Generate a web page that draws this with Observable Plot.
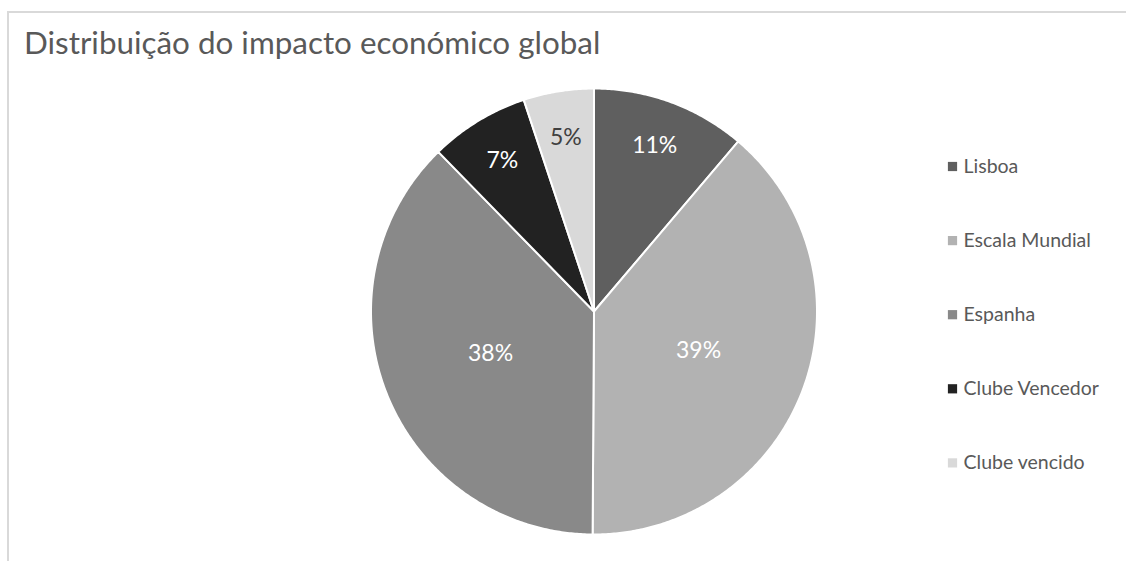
<!DOCTYPE html>
<html>
<head>
<meta charset="utf-8">
<script src="https://cdn.jsdelivr.net/npm/d3@7"></script>
<script src="https://cdn.jsdelivr.net/npm/@observablehq/plot@0.6"></script>
<style>
  html, body { margin: 0; padding: 0; background: #fff; }
  #wrap { position: relative; width: 1126px; height: 561px; overflow: hidden; font-family: Lato, "Open Sans", sans-serif; }
  #frame { position: absolute; left: 7px; top: 11px; width: 1130px; height: 560px; border-top: 2px solid #d9d9d9; border-left: 2px solid #d9d9d9; box-sizing: border-box; }
  #title { position: absolute; left: 24px; top: 27px; margin: 0; font-size: 31.4px; line-height: 1; font-weight: 400; color: #595959; white-space: nowrap; }
  #chart { position: absolute; left: 0; top: 0; }
</style>
</head>
<body>
<div id="wrap">
  <div id="frame"></div>
  <div id="chart"></div>
  <div id="title">Distribuição do impacto económico global</div>
</div>
<script>
// ---- data ----
const categories = ["Lisboa", "Escala Mundial", "Espanha", "Clube Vencedor", "Clube vencido"];
const values = [11.2, 38.9, 37.6, 7.2, 5.1];

// ---- layout constants ----
const W = 1126, H = 561;
const cx = 593.5, cy = 311, R = 223;
const legendX = 952, legendY0 = 166, legendStep = 74.1;
const palette = ["#5f5f5f", "#b2b2b2", "#898989", "#222222", "#d9d9d9"];

const total = d3.sum(values);
const arcs = d3.pie().sort(null).value(d => d)(values);

// slice polygons (center -> arc -> center)
const slicePts = [];
arcs.forEach((a, i) => {
  const cat = categories[i];
  slicePts.push({cat, x: cx, y: cy});
  const n = Math.max(4, Math.ceil((a.endAngle - a.startAngle) / (Math.PI / 360)));
  for (let k = 0; k <= n; k++) {
    const t = a.startAngle + (a.endAngle - a.startAngle) * k / n;
    slicePts.push({cat, x: cx + R * Math.sin(t), y: cy - R * Math.cos(t)});
  }
  slicePts.push({cat, x: cx, y: cy});
});

// labels
const labels = arcs.map((a, i) => {
  const share = values[i] / total;
  const mid = (a.startAngle + a.endAngle) / 2;
  const rr = share < 0.15 ? 0.79 * R : 0.5 * R;
  const col = palette[i];
  return {
    cat: categories[i],
    text: Math.round(share * 100) + "%",
    x: cx + rr * Math.sin(mid),
    y: cy - rr * Math.cos(mid),
    ink: d3.hsl(col).l > 0.7 ? "#404040" : "#ffffff"
  };
});

const legend = categories.map((c, i) => ({cat: c, x: legendX, y: legendY0 + i * legendStep}));

const chart = Plot.plot({
  width: W, height: H, margin: 0,
  style: {background: "none", overflow: "visible"},
  x: {domain: [0, W], range: [0, W], axis: null},
  y: {domain: [0, H], range: [0, H], axis: null},
  color: {domain: categories, range: palette},
  marks: [
    Plot.line(slicePts, {x: "x", y: "y", z: "cat", fill: "cat", stroke: "#ffffff", strokeWidth: 2, strokeLinejoin: "round", curve: "linear"}),
    Plot.text(labels, {x: "x", y: "y", text: "text", fill: d => d.ink, fontSize: 23, fontFamily: "Lato, 'Open Sans', sans-serif"}),
    Plot.dot(legend, {x: "x", y: "y", fill: "cat", symbol: "square", r: 5.2}),
    Plot.text(legend, {x: "x", y: "y", text: "cat", dx: 11, textAnchor: "start", fill: "#595959", fontSize: 19.5, fontFamily: "Lato, 'Open Sans', sans-serif"})
  ]
});
document.getElementById("chart").appendChild(chart);
</script>
</body>
</html>
